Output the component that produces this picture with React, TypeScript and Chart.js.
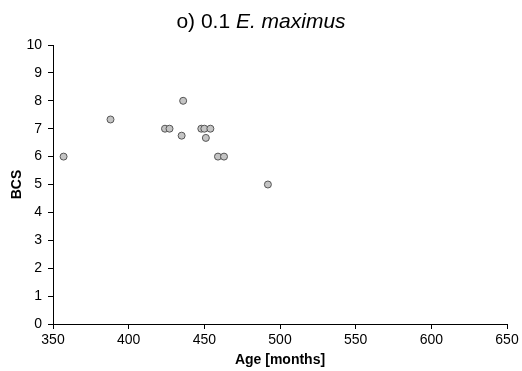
import React, { useEffect, useRef } from "react";
import { Chart, registerables } from "chart.js";

Chart.register(...registerables);

const ageMonths = [357, 388, 424, 427, 435, 436, 448, 450, 451, 454, 459, 463, 492];
const bcsValues = [6, 7.33, 7, 7, 6.75, 8, 7, 7, 6.67, 7, 6, 6, 5];

const titleNormal = "o) 0.1 ";
const titleItalic = "E. maximus";
const xTitle = "Age [months]";
const yTitle = "BCS";

const FONT = "'Liberation Sans', Arial, sans-serif";

export default function App() {
  const ref = useRef<HTMLCanvasElement | null>(null);

  useEffect(() => {
    document.body.style.margin = "0";
    const canvas = ref.current;
    if (!canvas) return;

    const titlePlugin = {
      id: "italicTitle",
      afterDraw(chart: any) {
        const ctx = chart.ctx;
        ctx.save();
        ctx.fillStyle = "#000";
        ctx.textBaseline = "middle";
        ctx.font = `21px ${FONT}`;
        const w1 = ctx.measureText(titleNormal).width;
        ctx.font = `italic 21px ${FONT}`;
        const w2 = ctx.measureText(titleItalic).width;
        const cx = chart.width / 2;
        const x0 = cx - (w1 + w2) / 2;
        const y = 22;
        ctx.font = `21px ${FONT}`;
        ctx.textAlign = "left";
        ctx.fillText(titleNormal, x0, y);
        ctx.font = `italic 21px ${FONT}`;
        ctx.fillText(titleItalic, x0 + w1, y);
        ctx.restore();
      },
    };

    const chart = new Chart(canvas, {
      type: "scatter",
      data: {
        datasets: [
          {
            label: titleNormal + titleItalic,
            data: ageMonths.map((x, i) => ({ x, y: bcsValues[i] })),
            backgroundColor: "#c4c4c4",
            borderColor: "#555555",
            borderWidth: 1,
            pointRadius: 3.5,
          },
        ],
      },
      options: {
        responsive: false,
        animation: false,
        layout: { padding: { top: 45, right: 15, left: 0, bottom: 0 } },
        plugins: {
          legend: { display: false },
          title: { display: false },
          tooltip: { enabled: false },
        },
        scales: {
          x: {
            type: "linear",
            min: 350,
            max: 650,
            afterFit(scale: any) {
              scale.height = 47;
            },
            ticks: {
              stepSize: 50,
              color: "#000",
              font: { family: FONT, size: 14 },
              padding: 3,
              maxRotation: 0,
            },
            grid: {
              display: true,
              drawOnChartArea: false,
              drawTicks: true,
              tickLength: 5,
              color: "#000",
            },
            border: { display: true, color: "#000", width: 1 },
            title: {
              display: true,
              text: xTitle,
              color: "#000",
              font: { family: FONT, size: 14, weight: "bold" },
              padding: { top: 0, bottom: 2 },
            },
          },
          y: {
            type: "linear",
            min: 0,
            max: 10,
            afterFit(scale: any) {
              scale.width = 53;
            },
            ticks: {
              stepSize: 1,
              color: "#000",
              font: { family: FONT, size: 14 },
              padding: 6,
            },
            grid: {
              display: true,
              drawOnChartArea: false,
              drawTicks: true,
              tickLength: 5,
              color: "#000",
            },
            border: { display: true, color: "#000", width: 1 },
            title: {
              display: true,
              text: yTitle,
              color: "#000",
              font: { family: FONT, size: 14, weight: "bold" },
              padding: { top: 9, bottom: 0 },
            },
          },
        },
      },
      plugins: [titlePlugin],
    });

    return () => chart.destroy();
  }, []);

  return (
    <div style={{ width: 522, height: 371, background: "#fff" }}>
      <canvas ref={ref} width={522} height={371} style={{ width: 522, height: 371, display: "block" }} />
    </div>
  );
}
